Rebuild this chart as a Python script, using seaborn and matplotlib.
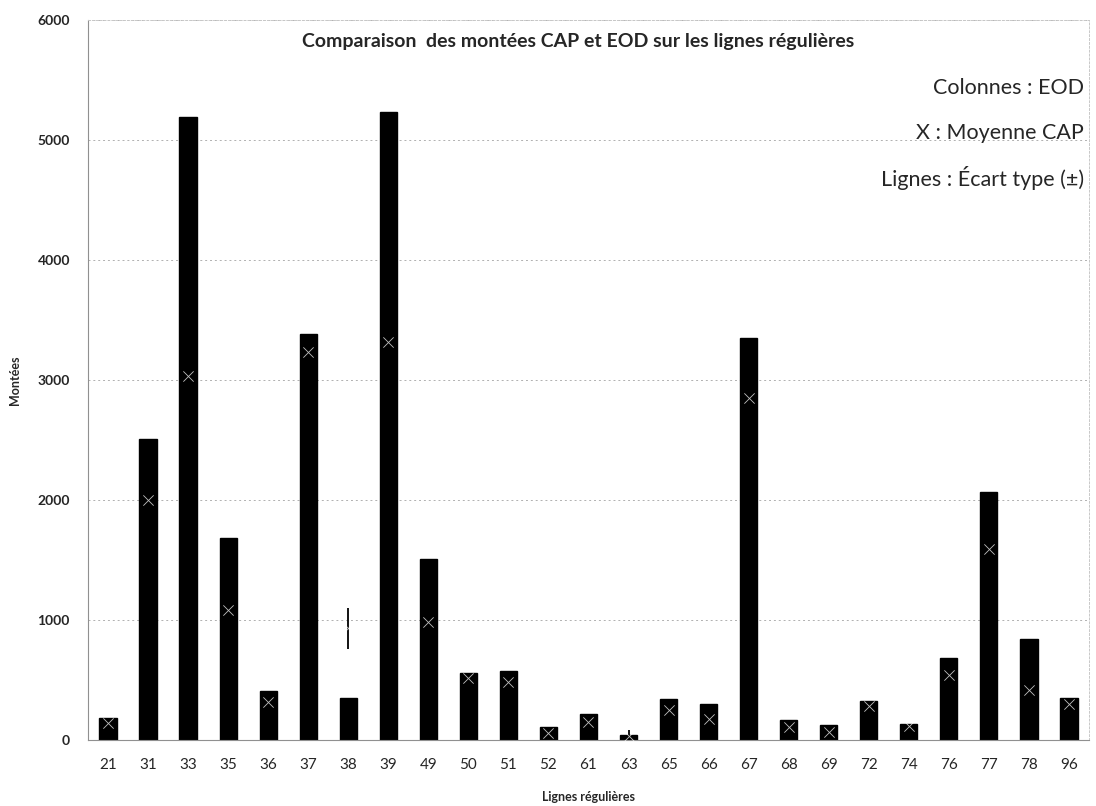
import numpy as np
import pandas as pd
import seaborn as sns
import matplotlib.pyplot as plt

# données
lignes = ["21", "31", "33", "35", "36", "37", "38", "39", "49", "50", "51", "52", "61",
          "63", "65", "66", "67", "68", "69", "72", "74", "76", "77", "78", "96"]
eod = [185, 2505, 5190, 1680, 410, 3380, 350, 5230, 1505, 560, 577, 108, 220,
       40, 345, 300, 3350, 170, 125, 325, 135, 685, 2065, 840, 350]
cap_moy = [140, 2000, 3030, 1085, 318, 3230, 930, 3320, 980, 520, 485, 55, 150,
           30, 250, 175, 2850, 110, 70, 285, 115, 545, 1590, 420, 300]
# écart type : seul celui de 38 et 63 est visible, les autres sont cachés dans les colonnes
cap_std = [np.nan] * len(lignes)
cap_std[6] = 170
cap_std[13] = 50

df = pd.DataFrame({"ligne": lignes, "EOD": eod, "CAP": cap_moy, "std": cap_std})

sns.set_style("white")
plt.rcParams['font.family'] = ['Lato', 'DejaVu Sans']

fig = plt.figure(figsize=(10.96, 8.06), dpi=100)
ax = fig.add_axes([0.0803, 0.0819, 0.9133, 0.8933])

sns.barplot(data=df, x="ligne", y="EOD", color="black", width=0.43,
            saturation=1, edgecolor="black", ax=ax, zorder=2)

# écart type (lignes)
ax.errorbar(df["ligne"], df["CAP"], yerr=df["std"], fmt="none",
            ecolor="black", elinewidth=1.3, capsize=0, zorder=3)
# moyenne CAP (X) : blanc, donc invisible hors des colonnes
sns.scatterplot(data=df, x="ligne", y="CAP", marker="x", color="white", alpha=0.75,
                s=55, linewidth=0.6, ax=ax, zorder=4, legend=False)

ax.set_ylim(0, 6000)
ax.set_xlim(-0.5, len(lignes) - 0.5)
ax.set_yticks(range(0, 6001, 1000))
ax.yaxis.grid(True, linestyle=(0, (2, 3)), color="#b0b0b0", linewidth=0.7)
ax.set_axisbelow(True)

for s in ["top", "right"]:
    ax.spines[s].set_color("#c8c8c8")
    ax.spines[s].set_linestyle((0, (2, 2)))
    ax.spines[s].set_linewidth(0.7)
ax.spines["left"].set_color("#909090")
ax.spines["bottom"].set_color("#909090")
ax.spines["left"].set_linewidth(0.8)
ax.spines["bottom"].set_linewidth(0.8)

# petits traits entre les catégories
ax.set_xticks(np.arange(-0.5, len(lignes), 1), minor=True)
ax.tick_params(axis="x", which="minor", length=5, color="#909090", direction="out")
ax.tick_params(axis="x", which="major", length=0, labelsize=11, pad=13)
ax.tick_params(axis="y", which="major", length=5, color="#909090", labelsize=10, pad=8)
for t in ax.get_yticklabels():
    t.set_fontweight("bold")

ax.set_xlabel("Lignes régulières", fontsize=9, fontweight="bold", labelpad=14)
ax.set_ylabel("Montées", fontsize=9, fontweight="bold", labelpad=12)

ax.text(0.49, 0.97, "Comparaison  des montées CAP et EOD sur les lignes régulières",
        transform=ax.transAxes, ha="center", va="center", fontsize=14, fontweight="bold")
ax.text(0.995, 0.905, "Colonnes : EOD", transform=ax.transAxes, ha="right", va="center", fontsize=15.5)
ax.text(0.995, 0.843, "X : Moyenne CAP", transform=ax.transAxes, ha="right", va="center", fontsize=15.5)
ax.text(0.995, 0.781, "Lignes : Écart type (±)", transform=ax.transAxes, ha="right", va="center", fontsize=15.5)

plt.savefig("out.png", dpi=100)
